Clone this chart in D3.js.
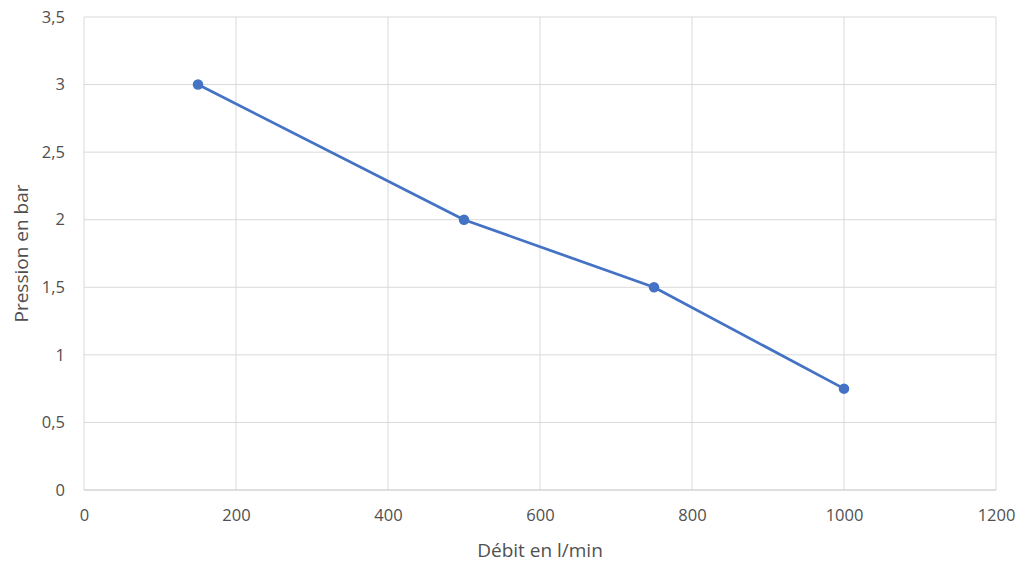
<!DOCTYPE html>
<html>
<head>
<meta charset="utf-8">
<script src="https://cdn.jsdelivr.net/npm/d3@7"></script>
<style>
  body { margin: 0; background: #fff; }
  text { font-family: "Open Sans", "Noto Sans", sans-serif; fill: #505050; }
</style>
</head>
<body>
<svg id="chart" width="1028" height="565"></svg>
<script>
// valeurs
const debit = [150, 500, 750, 1000];
const pression = [3, 2, 1.5, 0.75];
const xTicks = [0, 200, 400, 600, 800, 1000, 1200];
const yTicks = [0, 0.5, 1, 1.5, 2, 2.5, 3, 3.5];

const svg = d3.select("#chart");
const margin = { left: 84, top: 17, right: 1028 - 996, bottom: 565 - 490 };
const w = 1028 - margin.left - margin.right;
const h = 565 - margin.top - margin.bottom;

const g = svg.append("g").attr("transform", `translate(${margin.left},${margin.top})`);

const x = d3.scaleLinear().domain([0, 1200]).range([0, w]);
const y = d3.scaleLinear().domain([0, 3.5]).range([h, 0]);
const fmt = d => String(d).replace(".", ",");

// grille
g.append("g")
  .selectAll("line")
  .data(xTicks)
  .join("line")
  .attr("x1", d => x(d)).attr("x2", d => x(d))
  .attr("y1", 0).attr("y2", h)
  .attr("stroke", "#d9d9d9").attr("stroke-width", 1);

g.append("g")
  .selectAll("line")
  .data(yTicks)
  .join("line")
  .attr("x1", 0).attr("x2", w)
  .attr("y1", d => y(d)).attr("y2", d => y(d))
  .attr("stroke", d => d === 0 ? "#bfbfbf" : "#d9d9d9").attr("stroke-width", 1);

// axes
const xAxis = g.append("g")
  .attr("transform", `translate(0,${h})`)
  .call(d3.axisBottom(x).tickValues(xTicks).tickSize(0).tickPadding(19).tickFormat(fmt));
xAxis.select(".domain").remove();
xAxis.selectAll("text").style("font-size", "16.5px").attr("fill", "#505050");

const yAxis = g.append("g")
  .call(d3.axisLeft(y).tickValues(yTicks).tickSize(0).tickPadding(19).tickFormat(fmt));
yAxis.select(".domain").remove();
yAxis.selectAll("text").style("font-size", "16.5px").attr("fill", "#505050");

// courbe
const pts = debit.map((d, i) => [d, pression[i]]);
g.append("path")
  .datum(pts)
  .attr("fill", "none")
  .attr("stroke", "#4472c4")
  .attr("stroke-width", 2.75)
  .attr("stroke-linejoin", "round")
  .attr("d", d3.line().x(d => x(d[0])).y(d => y(d[1])));

g.selectAll("circle")
  .data(pts)
  .join("circle")
  .attr("cx", d => x(d[0]))
  .attr("cy", d => y(d[1]))
  .attr("r", 5.25)
  .attr("fill", "#4472c4");

// titres des axes
svg.append("text")
  .attr("x", 540)
  .attr("y", 557)
  .attr("text-anchor", "middle")
  .style("font-size", "19px")
  .text("Débit en l/min");

svg.append("text")
  .attr("transform", `translate(28,${margin.top + h / 2}) rotate(-90)`)
  .attr("text-anchor", "middle")
  .style("font-size", "19px")
  .text("Pression en bar");
</script>
</body>
</html>
